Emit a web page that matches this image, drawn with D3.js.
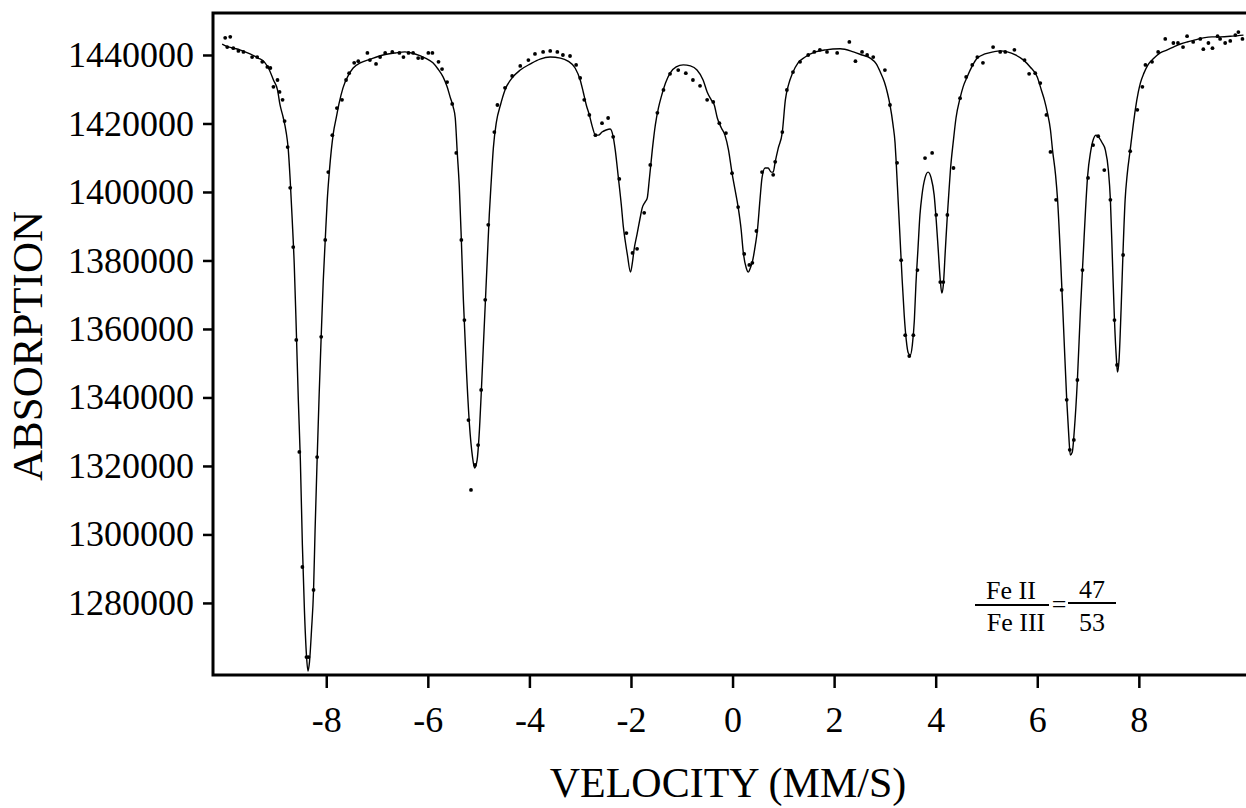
<!DOCTYPE html>
<html lang="en">
<head>
    <meta charset="UTF-8">
    <title>Absorption vs velocity</title>
    <script src="https://d3js.org/d3.v7.min.js"></script>
    <style>
        body { margin: 0; background: #fff; }
        text { font-family: "Liberation Serif", "DejaVu Serif", serif; fill: #000; }
    </style>
</head>
<body>
<script>
    const width  = 1246;
    const height = 808;

    // velocity (mm/s), absorption counts
    const fitCurve = [
        [-10.05,1443200],[-9.97,1442600],[-9.83,1442000],[-9.70,1441500],[-9.50,1440300],[-9.34,1439100],
        [-9.22,1438000],[-9.12,1435600],[-9.04,1432700],[-8.96,1429800],[-8.91,1425400],[-8.85,1421900],
        [-8.79,1417500],[-8.75,1412800],[-8.71,1403500],[-8.67,1391800],[-8.63,1378700],[-8.59,1359700],
        [-8.55,1339300],[-8.51,1321700],[-8.47,1296900],[-8.43,1277900],[-8.39,1264800],[-8.36,1260100],
        [-8.33,1262800],[-8.29,1272100],[-8.25,1283800],[-8.22,1301300],[-8.18,1321700],[-8.14,1340700],
        [-8.10,1357700],[-8.06,1373700],[-8.02,1386000],[-7.98,1397700],[-7.94,1405800],[-7.90,1412300],
        [-7.86,1417200],[-7.80,1421900],[-7.75,1425700],[-7.67,1430400],[-7.57,1433900],[-7.47,1436200],
        [-7.33,1437700],[-7.13,1438800],[-6.88,1440000],[-6.64,1440600],[-6.45,1440900],[-6.25,1440300],
        [-6.05,1439100],[-5.90,1437700],[-5.80,1435900],[-5.70,1433600],[-5.62,1430700],[-5.56,1427700],
        [-5.50,1424800],[-5.46,1421600],[-5.42,1411400],[-5.38,1401500],[-5.34,1386000],[-5.30,1368500],
        [-5.24,1348000],[-5.18,1332000],[-5.12,1322600],[-5.08,1319400],[-5.03,1321700],[-4.99,1329000],
        [-4.95,1340700],[-4.91,1353900],[-4.87,1367000],[-4.83,1380100],[-4.79,1393300],[-4.75,1403500],
        [-4.71,1412800],[-4.65,1420400],[-4.57,1425400],[-4.48,1429800],[-4.34,1433300],[-4.18,1435600],
        [-3.98,1437400],[-3.79,1438800],[-3.59,1439400],[-3.39,1439100],[-3.24,1438200],[-3.10,1436200],
        [-3.00,1432700],[-2.94,1429200],[-2.88,1425400],[-2.82,1422500],[-2.76,1419000],[-2.70,1416600],
        [-2.64,1416600],[-2.57,1417500],[-2.49,1418100],[-2.41,1418400],[-2.35,1416100],[-2.31,1412300],
        [-2.25,1404400],[-2.19,1396200],[-2.15,1389800],[-2.11,1385400],[-2.07,1381600],[-2.01,1376600],
        [-1.97,1379600],[-1.94,1383100],[-1.88,1387700],[-1.82,1392400],[-1.78,1395300],[-1.72,1397100],
        [-1.68,1398200],[-1.64,1403500],[-1.58,1412300],[-1.52,1419600],[-1.46,1424500],[-1.40,1428000],
        [-1.32,1431800],[-1.23,1434700],[-1.11,1436500],[-0.97,1437100],[-0.83,1436800],[-0.70,1435600],
        [-0.58,1432700],[-0.50,1429200],[-0.42,1426900],[-0.36,1425400],[-0.30,1421600],[-0.22,1418700],
        [-0.15,1416600],[-0.08,1412300],[-0.01,1405500],[0.05,1400600],[0.11,1395600],[0.17,1388900],
        [0.21,1382500],[0.27,1377800],[0.31,1376600],[0.35,1377800],[0.39,1379600],[0.45,1384600],
        [0.49,1388900],[0.54,1397700],[0.58,1404100],[0.64,1407000],[0.70,1407000],[0.76,1405800],
        [0.80,1405800],[0.84,1408800],[0.90,1412800],[0.98,1417500],[1.04,1426900],[1.10,1431200],
        [1.18,1434700],[1.29,1437700],[1.43,1439400],[1.63,1440900],[1.83,1441500],[2.12,1441800],
        [2.38,1440900],[2.55,1440000],[2.71,1439100],[2.83,1437400],[2.91,1435000],[2.99,1432100],
        [3.05,1428900],[3.10,1425400],[3.16,1419600],[3.20,1414300],[3.22,1409300],[3.26,1397700],
        [3.30,1386000],[3.34,1374300],[3.38,1364100],[3.42,1356800],[3.46,1353000],[3.50,1352400],
        [3.54,1355300],[3.58,1362600],[3.61,1372800],[3.65,1383100],[3.69,1393300],[3.73,1399100],
        [3.79,1404100],[3.85,1405800],[3.91,1404100],[3.97,1399100],[4.01,1391800],[4.05,1383100],
        [4.09,1374300],[4.12,1370500],[4.15,1372800],[4.19,1383100],[4.23,1393300],[4.25,1397700],
        [4.29,1406400],[4.35,1415200],[4.40,1421600],[4.48,1427400],[4.54,1430700],[4.62,1433600],
        [4.72,1436800],[4.82,1439100],[4.97,1440300],[5.13,1440900],[5.27,1441200],[5.41,1440900],
        [5.57,1440000],[5.73,1438500],[5.86,1436500],[6.00,1433600],[6.08,1429800],[6.14,1426900],
        [6.20,1423100],[6.26,1418100],[6.30,1412300],[6.36,1405000],[6.40,1397700],[6.46,1380100],
        [6.52,1359700],[6.58,1339300],[6.62,1329000],[6.65,1323200],[6.69,1324100],[6.73,1330500],
        [6.79,1345100],[6.85,1365500],[6.91,1383100],[6.95,1394700],[6.99,1404400],[7.05,1411700],
        [7.10,1415200],[7.16,1416600],[7.22,1415800],[7.28,1414300],[7.34,1412300],[7.40,1406400],
        [7.44,1397700],[7.48,1380100],[7.52,1362600],[7.56,1350900],[7.58,1347400],[7.61,1350900],
        [7.65,1365500],[7.69,1383100],[7.73,1397700],[7.77,1405000],[7.83,1412300],[7.89,1419600],
        [7.93,1424000],[7.99,1429200],[8.03,1431800],[8.10,1434700],[8.18,1437100],[8.30,1439100],
        [8.42,1440600],[8.56,1441500],[8.68,1442300],[8.82,1443200],[8.95,1443800],[9.11,1444400],
        [9.27,1445000],[9.44,1445300],[9.60,1445300],[9.84,1445500],[10.06,1445800]
    ];

    const measured = [
        [-9.99,1445000],[-9.95,1442300],[-9.89,1445300],[-9.83,1442000],[-9.73,1441200],[-9.63,1440900],
        [-9.46,1439400],[-9.36,1439400],[-9.26,1438000],[-9.16,1436500],[-9.10,1436200],[-9.04,1430700],
        [-8.96,1432700],[-8.92,1429200],[-8.86,1426900],[-8.82,1420700],[-8.76,1413100],[-8.71,1401200],
        [-8.65,1383900],[-8.59,1356800],[-8.53,1324100],[-8.47,1290500],[-8.39,1264200],[-8.35,1264200],
        [-8.25,1283800],[-8.18,1322600],[-8.10,1357700],[-8.02,1386000],[-7.96,1405800],[-7.88,1416600],
        [-7.79,1424500],[-7.69,1426900],[-7.61,1432700],[-7.55,1434700],[-7.45,1437700],[-7.37,1438200],
        [-7.19,1440600],[-7.14,1438500],[-7.02,1437400],[-6.94,1439400],[-6.84,1440600],[-6.70,1440900],
        [-6.56,1440600],[-6.48,1439400],[-6.38,1440600],[-6.29,1440600],[-6.19,1439100],[-6.11,1439100],
        [-5.99,1440600],[-5.91,1440600],[-5.79,1438000],[-5.72,1435900],[-5.62,1432100],[-5.52,1425700],
        [-5.44,1411400],[-5.34,1386000],[-5.28,1362600],[-5.20,1333400],[-5.15,1313000],[-5.07,1320300],
        [-5.01,1326100],[-4.95,1342200],[-4.87,1368500],[-4.81,1390400],[-4.69,1417500],[-4.63,1425400],
        [-4.48,1430400],[-4.34,1433900],[-4.18,1436800],[-4.02,1438500],[-3.89,1440300],[-3.73,1440900],
        [-3.59,1441200],[-3.45,1440900],[-3.34,1440000],[-3.20,1439700],[-3.08,1437100],[-3.00,1433300],
        [-2.92,1426900],[-2.82,1422500],[-2.70,1416600],[-2.57,1420100],[-2.45,1421600],[-2.35,1416100],
        [-2.23,1403800],[-2.09,1388000],[-1.97,1382200],[-1.88,1383400],[-1.74,1393900],[-1.62,1407900],
        [-1.48,1423100],[-1.36,1429800],[-1.23,1434500],[-1.07,1435600],[-0.92,1434700],[-0.78,1432700],
        [-0.64,1431000],[-0.50,1426900],[-0.38,1426300],[-0.26,1420100],[-0.13,1417200],[-0.01,1405500],
        [0.11,1395600],[0.23,1381900],[0.33,1378700],[0.39,1379300],[0.47,1388600],[0.58,1405800],
        [0.80,1405000],[0.84,1408800],[0.98,1417500],[1.07,1429800],[1.19,1435000],[1.33,1438000],
        [1.49,1440000],[1.61,1440900],[1.72,1441500],[1.86,1440900],[2.06,1440600],[2.30,1443800],
        [2.42,1438200],[2.55,1440900],[2.65,1440000],[2.77,1439400],[3.00,1435600],[3.10,1425400],
        [3.24,1408500],[3.32,1380100],[3.40,1358200],[3.48,1352100],[3.56,1358200],[3.64,1377200],
        [3.79,1409900],[3.93,1411400],[4.01,1393300],[4.09,1373700],[4.15,1373700],[4.23,1393300],
        [4.35,1407000],[4.48,1427400],[4.60,1433600],[4.72,1437100],[4.82,1439400],[4.93,1437700],
        [5.13,1442300],[5.27,1440900],[5.37,1440900],[5.55,1441500],[5.75,1438500],[5.84,1434500],
        [5.96,1434700],[6.06,1431800],[6.18,1422500],[6.26,1411700],[6.37,1397700],[6.48,1371400],
        [6.58,1339300],[6.64,1324700],[6.72,1327600],[6.79,1345100],[6.89,1377200],[7.00,1404100],
        [7.10,1413700],[7.20,1416300],[7.32,1406400],[7.44,1397700],[7.52,1362600],[7.57,1349500],
        [7.69,1381600],[7.83,1411900],[7.97,1424000],[8.07,1430700],[8.13,1437100],[8.26,1438000],
        [8.38,1440900],[8.52,1444700],[8.68,1443500],[8.77,1443500],[8.87,1442300],[8.95,1445500],
        [9.07,1443800],[9.21,1444700],[9.27,1441700],[9.37,1443500],[9.45,1442000],[9.55,1445500],
        [9.60,1444700],[9.70,1443500],[9.80,1444100],[9.90,1445800],[9.96,1446700],[10.04,1444700]
    ];

    const xTicks = [-8, -6, -4, -2, 0, 2, 4, 6, 8];
    const yTicks = [1280000, 1300000, 1320000, 1340000, 1360000, 1380000, 1400000, 1420000, 1440000];
    const xDomain = [-10.23, 10.11];
    const yDomain = [1258960, 1452260];

    const plotLeft = 213, plotRight = 1246, plotTop = 13, plotBottom = 675;

    const scaleX = d3.scaleLinear().domain(xDomain).range([plotLeft, plotRight]);
    const scaleY = d3.scaleLinear().domain(yDomain).range([plotBottom, plotTop]);

    const svg = d3.select("body").append("svg")
        .attr("width", width).attr("height", height)
        .style("background", "#fff");

    // frame (right side runs off the page)
    svg.append("path")
        .attr("d", `M${plotRight + 10},${plotTop}H${plotLeft}V${plotBottom}H${plotRight + 10}`)
        .attr("fill", "none").attr("stroke", "#000").attr("stroke-width", 3);

    const yAxis = svg.append("g")
        .attr("transform", "translate(" + [plotLeft, 0] + ")")
        .call(d3.axisLeft(scaleY).tickValues(yTicks).tickSize(10).tickPadding(9).tickFormat(d => String(d)));
    yAxis.select(".domain").remove();
    yAxis.selectAll(".tick line").attr("stroke", "#000").attr("stroke-width", 2.5);
    yAxis.selectAll("text").style("font-size", "36px").attr("fill", "#000");

    const xAxis = svg.append("g")
        .attr("transform", "translate(" + [0, plotBottom] + ")")
        .call(d3.axisBottom(scaleX).tickValues(xTicks).tickSize(13).tickPadding(18).tickFormat(d => String(d)));
    xAxis.select(".domain").remove();
    xAxis.selectAll(".tick line").attr("stroke", "#000").attr("stroke-width", 2.5);
    xAxis.selectAll("text").style("font-size", "36px").attr("fill", "#000");

    const line = d3.line()
        .x(d => scaleX(d[0]))
        .y(d => scaleY(d[1]))
        .curve(d3.curveMonotoneX);

    svg.append("path")
        .attr("d", line(fitCurve))
        .attr("fill", "none")
        .attr("stroke", "#000")
        .attr("stroke-width", 1.4);

    svg.append("g").selectAll("circle")
        .data(measured)
        .join("circle")
        .attr("cx", d => scaleX(d[0]))
        .attr("cy", d => scaleY(d[1]))
        .attr("r", 1.9)
        .attr("fill", "#000");

    // axis titles
    svg.append("text")
        .attr("x", 728).attr("y", 797)
        .attr("text-anchor", "middle")
        .style("font-size", "42px")
        .text("VELOCITY (MM/S)");

    svg.append("text")
        .attr("transform", "translate(42,346) rotate(-90)")
        .attr("text-anchor", "middle")
        .style("font-size", "43px")
        .text("ABSORPTION");

    // Fe II / Fe III ratio note
    const note = svg.append("g").style("font-size", "26px");
    note.append("text").attr("x", 1011).attr("y", 599).attr("text-anchor", "middle").text("Fe II");
    note.append("line").attr("x1", 975).attr("x2", 1049).attr("y1", 605).attr("y2", 605)
        .attr("stroke", "#000").attr("stroke-width", 1.8);
    note.append("text").attr("x", 1016).attr("y", 631).attr("text-anchor", "middle").text("Fe III");
    note.append("text").attr("x", 1059).attr("y", 613).attr("text-anchor", "middle").text("=");
    note.append("text").attr("x", 1092).attr("y", 598).attr("text-anchor", "middle").text("47");
    note.append("line").attr("x1", 1068).attr("x2", 1116).attr("y1", 603).attr("y2", 603)
        .attr("stroke", "#000").attr("stroke-width", 1.8);
    note.append("text").attr("x", 1092).attr("y", 631).attr("text-anchor", "middle").text("53");
</script>
</body>
</html>
